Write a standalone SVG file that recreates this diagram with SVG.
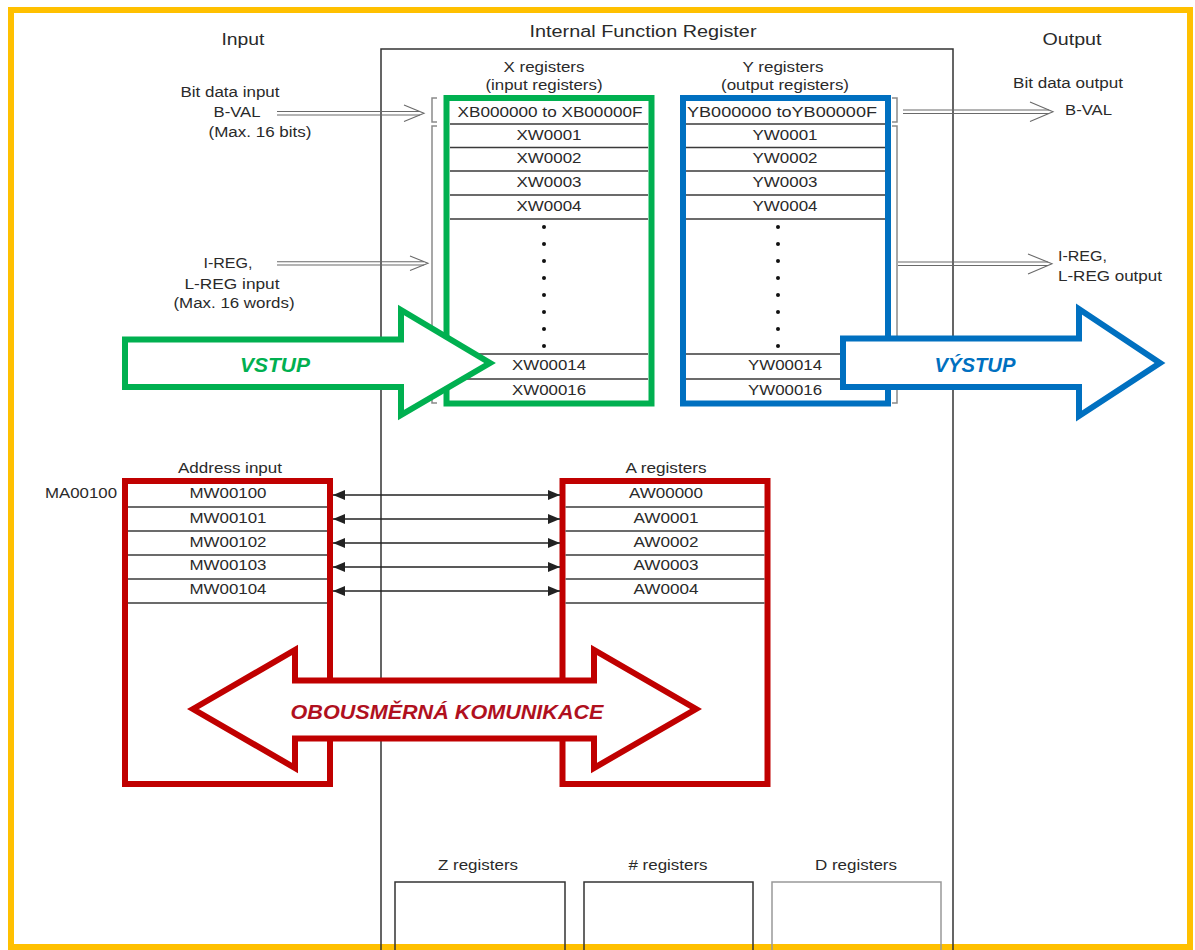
<svg xmlns="http://www.w3.org/2000/svg" width="1195" height="950" viewBox="0 0 1195 950">
<defs>
<style>
.t{font-family:"Liberation Sans",Arial,sans-serif;font-size:14px;fill:#2a2a2a;text-anchor:middle}
.h{font-size:16px}
.st{text-anchor:start}
.big{font-family:"Liberation Sans",Arial,sans-serif;font-weight:bold;font-style:italic;font-size:21px;text-anchor:middle}
.row{stroke:#3a3a3a;stroke-width:1.5}
.dbl{stroke:#6a6a6a;stroke-width:1.1;fill:none}
.brk{stroke:#8a8a8a;stroke-width:1.5;fill:none}
.conn{stroke:#222;stroke-width:1.5}
.dot{fill:#111}
</style>
<marker id="ah" viewBox="0 0 12 10" refX="12" refY="5" markerWidth="12" markerHeight="10" markerUnits="userSpaceOnUse" orient="auto-start-reverse">
<path d="M0,0 L12,5 L0,10 z" fill="#222"/>
</marker>
</defs>
<rect width="1195" height="950" fill="#fff"/>
<rect id="frame" x="11" y="10" width="1179" height="937" fill="none" stroke="#FFC000" stroke-width="6"/>

<g id="ifr">
<path d="M381,952 V49 H953 V952" fill="none" stroke="#333" stroke-width="1.5"/>
<text class="t h" x="643" y="37" textLength="227" lengthAdjust="spacingAndGlyphs">Internal Function Register</text>
</g>

<g id="input-label"><text class="t h" x="243" y="45" textLength="43" lengthAdjust="spacingAndGlyphs">Input</text></g>
<g id="output-label"><text class="t h" x="1072" y="45" textLength="59" lengthAdjust="spacingAndGlyphs">Output</text></g>

<g id="bit-input">
<text class="t" x="230" y="97" textLength="99" lengthAdjust="spacingAndGlyphs">Bit data input</text>
<text class="t" x="237" y="117" textLength="47" lengthAdjust="spacingAndGlyphs">B-VAL</text>
<text class="t" x="260" y="137" textLength="103" lengthAdjust="spacingAndGlyphs">(Max. 16 bits)</text>
</g>
<g id="ireg-input">
<text class="t" x="228" y="268" textLength="49" lengthAdjust="spacingAndGlyphs">I-REG,</text>
<text class="t" x="232" y="289" textLength="95" lengthAdjust="spacingAndGlyphs">L-REG input</text>
<text class="t" x="234" y="308" textLength="121" lengthAdjust="spacingAndGlyphs">(Max. 16 words)</text>
</g>
<g id="bit-output">
<text class="t" x="1068" y="88" textLength="110" lengthAdjust="spacingAndGlyphs">Bit data output</text>
<text class="t st" x="1065" y="115" textLength="47" lengthAdjust="spacingAndGlyphs">B-VAL</text>
</g>
<g id="ireg-output">
<text class="t st" x="1058" y="261" textLength="49" lengthAdjust="spacingAndGlyphs">I-REG,</text>
<text class="t st" x="1058" y="281" textLength="104" lengthAdjust="spacingAndGlyphs">L-REG output</text>
</g>

<g id="x-registers">
<text class="t" x="544" y="72" textLength="81" lengthAdjust="spacingAndGlyphs">X registers</text>
<text class="t" x="544" y="90" textLength="117" lengthAdjust="spacingAndGlyphs">(input registers)</text>
<rect x="446.5" y="98" width="205" height="305.5" fill="#fff" stroke="#00B050" stroke-width="6"/>
<line class="row" x1="450" y1="124" x2="648" y2="124"/>
<line class="row" x1="450" y1="147.5" x2="648" y2="147.5"/>
<line class="row" x1="450" y1="171" x2="648" y2="171"/>
<line class="row" x1="450" y1="195" x2="648" y2="195"/>
<line class="row" x1="450" y1="219" x2="648" y2="219"/>
<line class="row" x1="450" y1="354" x2="648" y2="354"/>
<line class="row" x1="450" y1="379" x2="648" y2="379"/>
<text class="t" x="550" y="117" textLength="185" lengthAdjust="spacingAndGlyphs">XB000000 to XB00000F</text>
<text class="t" x="549" y="140" textLength="65" lengthAdjust="spacingAndGlyphs">XW0001</text>
<text class="t" x="549" y="163" textLength="65" lengthAdjust="spacingAndGlyphs">XW0002</text>
<text class="t" x="549" y="187" textLength="65" lengthAdjust="spacingAndGlyphs">XW0003</text>
<text class="t" x="549" y="211" textLength="65" lengthAdjust="spacingAndGlyphs">XW0004</text>
<circle class="dot" cx="544" cy="227" r="2"/>
<circle class="dot" cx="544" cy="244" r="2"/>
<circle class="dot" cx="544" cy="261" r="2"/>
<circle class="dot" cx="544" cy="278" r="2"/>
<circle class="dot" cx="544" cy="295" r="2"/>
<circle class="dot" cx="544" cy="312" r="2"/>
<circle class="dot" cx="544" cy="329" r="2"/>
<circle class="dot" cx="544" cy="346" r="2"/>
<text class="t" x="549" y="370" textLength="74" lengthAdjust="spacingAndGlyphs">XW00014</text>
<text class="t" x="549" y="395" textLength="74" lengthAdjust="spacingAndGlyphs">XW00016</text>
</g>

<g id="y-registers">
<text class="t" x="783" y="72" textLength="81" lengthAdjust="spacingAndGlyphs">Y registers</text>
<text class="t" x="785" y="90" textLength="128" lengthAdjust="spacingAndGlyphs">(output registers)</text>
<rect x="683" y="98" width="205" height="305.5" fill="#fff" stroke="#0070C0" stroke-width="6"/>
<line class="row" x1="686" y1="124" x2="885" y2="124"/>
<line class="row" x1="686" y1="147.5" x2="885" y2="147.5"/>
<line class="row" x1="686" y1="171" x2="885" y2="171"/>
<line class="row" x1="686" y1="195" x2="885" y2="195"/>
<line class="row" x1="686" y1="219" x2="885" y2="219"/>
<line class="row" x1="686" y1="354" x2="885" y2="354"/>
<line class="row" x1="686" y1="379" x2="885" y2="379"/>
<text class="t" x="782" y="117" textLength="190" lengthAdjust="spacingAndGlyphs">YB000000  toYB00000F</text>
<text class="t" x="785" y="140" textLength="65" lengthAdjust="spacingAndGlyphs">YW0001</text>
<text class="t" x="785" y="163" textLength="65" lengthAdjust="spacingAndGlyphs">YW0002</text>
<text class="t" x="785" y="187" textLength="65" lengthAdjust="spacingAndGlyphs">YW0003</text>
<text class="t" x="785" y="211" textLength="65" lengthAdjust="spacingAndGlyphs">YW0004</text>
<circle class="dot" cx="778" cy="227" r="2"/>
<circle class="dot" cx="778" cy="244" r="2"/>
<circle class="dot" cx="778" cy="261" r="2"/>
<circle class="dot" cx="778" cy="278" r="2"/>
<circle class="dot" cx="778" cy="295" r="2"/>
<circle class="dot" cx="778" cy="312" r="2"/>
<circle class="dot" cx="778" cy="329" r="2"/>
<circle class="dot" cx="778" cy="346" r="2"/>
<text class="t" x="785" y="370" textLength="74" lengthAdjust="spacingAndGlyphs">YW00014</text>
<text class="t" x="785" y="395" textLength="74" lengthAdjust="spacingAndGlyphs">YW00016</text>
</g>

<g id="brackets">
<path class="brk" d="M437,98 H432 V122 H437"/>
<path class="brk" d="M437,126 H432 V403 H437"/>
<path class="brk" d="M892,98 H897 V122 H892"/>
<path class="brk" d="M892,126 H897 V403 H892"/>
</g>

<g id="address-input">
<text class="t" x="230" y="473" textLength="104" lengthAdjust="spacingAndGlyphs">Address input</text>
<text class="t" x="81" y="498" textLength="72" lengthAdjust="spacingAndGlyphs">MA00100</text>
<rect x="125" y="481" width="205" height="303" fill="#fff" stroke="#C00000" stroke-width="6"/>
<line class="row" x1="128" y1="507" x2="327" y2="507"/>
<line class="row" x1="128" y1="531" x2="327" y2="531"/>
<line class="row" x1="128" y1="555" x2="327" y2="555"/>
<line class="row" x1="128" y1="579" x2="327" y2="579"/>
<line class="row" x1="128" y1="603" x2="327" y2="603"/>
<text class="t" x="228" y="498" textLength="77" lengthAdjust="spacingAndGlyphs">MW00100</text>
<text class="t" x="228" y="523" textLength="77" lengthAdjust="spacingAndGlyphs">MW00101</text>
<text class="t" x="228" y="547" textLength="77" lengthAdjust="spacingAndGlyphs">MW00102</text>
<text class="t" x="228" y="570" textLength="77" lengthAdjust="spacingAndGlyphs">MW00103</text>
<text class="t" x="228" y="594" textLength="77" lengthAdjust="spacingAndGlyphs">MW00104</text>
</g>

<g id="a-registers">
<text class="t" x="666" y="473" textLength="81" lengthAdjust="spacingAndGlyphs">A registers</text>
<rect x="562.5" y="481" width="205" height="303" fill="#fff" stroke="#C00000" stroke-width="6"/>
<line class="row" x1="565.5" y1="507" x2="764.5" y2="507"/>
<line class="row" x1="565.5" y1="531" x2="764.5" y2="531"/>
<line class="row" x1="565.5" y1="555" x2="764.5" y2="555"/>
<line class="row" x1="565.5" y1="579" x2="764.5" y2="579"/>
<line class="row" x1="565.5" y1="603" x2="764.5" y2="603"/>
<text class="t" x="666" y="498" textLength="74" lengthAdjust="spacingAndGlyphs">AW00000</text>
<text class="t" x="666" y="523" textLength="65" lengthAdjust="spacingAndGlyphs">AW0001</text>
<text class="t" x="666" y="547" textLength="65" lengthAdjust="spacingAndGlyphs">AW0002</text>
<text class="t" x="666" y="570" textLength="65" lengthAdjust="spacingAndGlyphs">AW0003</text>
<text class="t" x="666" y="594" textLength="65" lengthAdjust="spacingAndGlyphs">AW0004</text>
</g>

<g id="z-registers">
<text class="t" x="478" y="870" textLength="80" lengthAdjust="spacingAndGlyphs">Z registers</text>
<path d="M395,952 V882 H565 V952" fill="none" stroke="#333" stroke-width="1.5"/>
</g>
<g id="hash-registers">
<text class="t" x="668" y="870" textLength="79" lengthAdjust="spacingAndGlyphs"># registers</text>
<path d="M584,952 V882 H753 V952" fill="none" stroke="#333" stroke-width="1.5"/>
</g>
<g id="d-registers">
<text class="t" x="856" y="870" textLength="82" lengthAdjust="spacingAndGlyphs">D registers</text>
<path d="M772,952 V882 H941 V952" fill="none" stroke="#999" stroke-width="1.5"/>
</g>

<g id="connectors">
<line class="dbl" x1="277" y1="111.5" x2="420" y2="111.5"/>
<line class="dbl" x1="277" y1="115" x2="420" y2="115"/>
<polyline class="dbl" points="404,105 424,113.3 404,121.5"/>
<line class="dbl" x1="277" y1="261.7" x2="424" y2="261.7"/>
<line class="dbl" x1="277" y1="265" x2="424" y2="265"/>
<polyline class="dbl" points="410,256 428,263.3 410,270.5"/>
<line class="dbl" x1="903" y1="110" x2="1049" y2="110"/>
<line class="dbl" x1="903" y1="113.5" x2="1049" y2="113.5"/>
<polyline class="dbl" points="1030,102 1053,111.8 1030,121.5"/>
<line class="dbl" x1="898" y1="262" x2="1048" y2="262"/>
<line class="dbl" x1="898" y1="265.5" x2="1048" y2="265.5"/>
<polyline class="dbl" points="1028,254 1052,263.8 1028,274"/>
<line class="conn" x1="333" y1="495" x2="560" y2="495" marker-start="url(#ah)" marker-end="url(#ah)"/>
<line class="conn" x1="333" y1="519" x2="560" y2="519" marker-start="url(#ah)" marker-end="url(#ah)"/>
<line class="conn" x1="333" y1="543" x2="560" y2="543" marker-start="url(#ah)" marker-end="url(#ah)"/>
<line class="conn" x1="333" y1="567" x2="560" y2="567" marker-start="url(#ah)" marker-end="url(#ah)"/>
<line class="conn" x1="333" y1="591" x2="560" y2="591" marker-start="url(#ah)" marker-end="url(#ah)"/>
</g>

<g id="vstup">
<polygon points="125,339.5 401,339.5 401,310 490,363 401,415 401,387 125,387" fill="#fff" stroke="#00B050" stroke-width="6" stroke-linejoin="miter"/>
<text class="big" x="275" y="372" fill="#00B050" textLength="70" lengthAdjust="spacingAndGlyphs">VSTUP</text>
</g>

<g id="vystup">
<polygon points="843,338.5 1079,338.5 1079,309 1160,363 1079,416 1079,387 843,387" fill="#fff" stroke="#0070C0" stroke-width="6"/>
<text class="big" x="975" y="372" fill="#0070C0" textLength="81" lengthAdjust="spacingAndGlyphs">VÝSTUP</text>
</g>

<g id="obousmerna">
<polygon points="193,709 295,650 295,680.5 594,680.5 594,650 696,709 594,768 594,738.5 295,738.5 295,768" fill="#fff" stroke="#C00000" stroke-width="6"/>
<text class="big" x="447" y="719" fill="#B0101E" textLength="313" lengthAdjust="spacingAndGlyphs">OBOUSMĚRNÁ KOMUNIKACE</text>
</g>
</svg>
